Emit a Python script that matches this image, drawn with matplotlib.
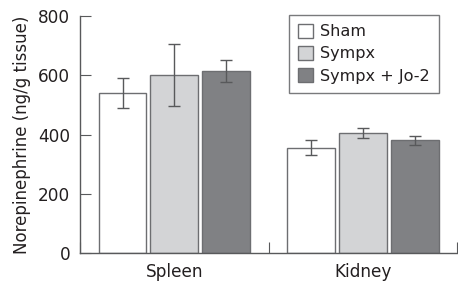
import numpy as np
import matplotlib
matplotlib.use("Agg")
import matplotlib.pyplot as plt

categories = ["Spleen", "Kidney"]
groups = ["Sham", "Sympx", "Sympx + Jo-2"]
means = {
    "Sham": [540, 355],
    "Sympx": [600, 405],
    "Sympx + Jo-2": [615, 380],
}
errs = {
    "Sham": [50, 25],
    "Sympx": [105, 18],
    "Sympx + Jo-2": [38, 15],
}
colors = ["#ffffff", "#d3d4d6", "#808184"]

plt.rcParams["font.family"] = ["DejaVu Sans"]
fig = plt.figure(figsize=(4.58, 2.86), dpi=100)
ax = fig.add_axes([0.175, 0.115, 0.823, 0.829])

centers = np.arange(len(categories)) + 0.5
width = 0.254
step = 0.275
edge = "#6d6e71"
for i, g in enumerate(groups):
    x = centers + (i - 1) * step
    ax.bar(x, means[g], width, color=colors[i], edgecolor=edge, linewidth=1.0,
           label=g, zorder=2)
    ax.errorbar(x, means[g], yerr=errs[g], fmt="none", ecolor="#58595b",
                elinewidth=1.0, capsize=4.5, capthick=1.0, zorder=3)

ax.set_xlim(0, 2)
ax.set_ylim(0, 800)
ax.set_yticks([0, 200, 400, 600, 800])
ax.set_xticks([0, 1, 2])
ax.set_xticklabels([])
ax.set_xticks(centers, minor=True)
ax.set_xticklabels(categories, minor=True, fontsize=12.2, color="#231f20")
ax.tick_params(axis="x", which="minor", length=0, pad=7)
ax.tick_params(axis="x", which="major", direction="in", length=8, color="#58595b")
ax.tick_params(axis="y", direction="in", length=8, color="#58595b",
               labelsize=12.2, labelcolor="#231f20", pad=7)
for s in ["top", "right"]:
    ax.spines[s].set_visible(False)
for s in ["left", "bottom"]:
    ax.spines[s].set_color("#58595b")
    ax.spines[s].set_linewidth(1.0)
ax.set_ylabel("Norepinephrine (ng/g tissue)", fontsize=12, color="#231f20", labelpad=5)

leg = ax.legend(loc="upper right", bbox_to_anchor=(0.952, 1.005), fontsize=11.6,
                frameon=True, fancybox=False, edgecolor="#58595b",
                handlelength=0.95, handleheight=0.95, handletextpad=0.45,
                labelspacing=0.42, borderpad=0.55, borderaxespad=0)
leg.get_frame().set_linewidth(1.0)
for t in leg.get_texts():
    t.set_color("#231f20")

fig.savefig("out.png", dpi=100)
